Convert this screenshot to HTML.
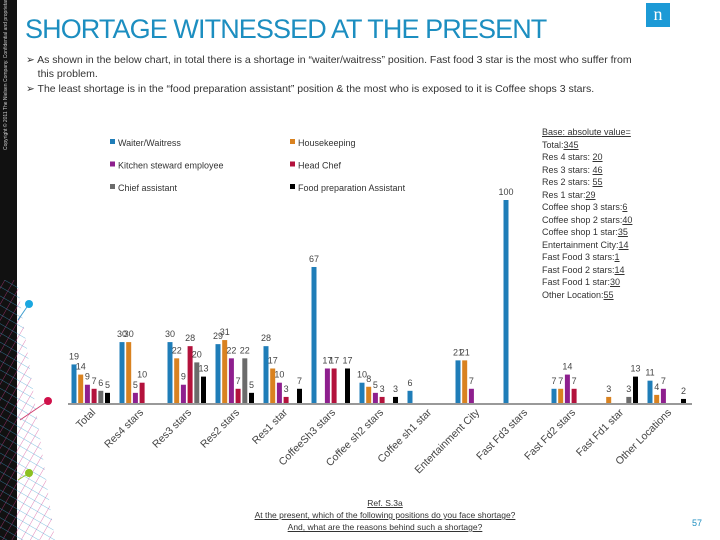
<!DOCTYPE html>
<html><head><meta charset="utf-8"><style>
body{margin:0;width:720px;height:540px;overflow:hidden;background:#fff;font-family:"Liberation Sans",sans-serif;position:relative}
.abs{position:absolute}
#title{left:25px;top:14px;font-size:27px;color:#1c8ec0;letter-spacing:-0.9px;white-space:nowrap}
.bul{left:26px;font-size:10.5px;color:#333;line-height:14px;width:660px}
#base{left:542px;top:126px;font-size:9px;color:#333;line-height:12.5px}
#base u{text-decoration:underline}
</style></head><body>
<div class="abs" style="left:0;top:0;width:17px;height:540px;background:#111"></div>
<div class="abs" style="left:3px;top:150px;font-size:5px;color:#ccc;transform:rotate(-90deg);transform-origin:left top;white-space:nowrap">Copyright © 2011 The Nielsen Company. Confidential and proprietary.</div>
<svg class="abs" style="left:0;top:0" width="720" height="540">
<defs><pattern id="mesh" width="8" height="8" patternUnits="userSpaceOnUse" patternTransform="rotate(30)">
<line x1="0" y1="0" x2="0" y2="8" stroke="#d04090" stroke-width="0.8"/><line x1="0" y1="0" x2="8" y2="0" stroke="#40a0d0" stroke-width="0.8"/></pattern></defs>
<polygon points="0,280 17,280 55,540 0,540" fill="url(#mesh)" opacity="0.8"/>
<line x1="18" y1="320" x2="29" y2="304" stroke="#40a0d0"/><circle cx="29" cy="304" r="4" fill="#1aa7e0"/>
<line x1="20" y1="420" x2="48" y2="401" stroke="#d04070"/><circle cx="48" cy="401" r="4" fill="#d0104a"/>
<line x1="18" y1="480" x2="29" y2="473" stroke="#90c030"/><circle cx="29" cy="473" r="4" fill="#8cc020"/>
</svg>
<div class="abs" style="left:646px;top:3px;width:24px;height:24px;background:#1c9ad6;color:#fff;font-size:18px;text-align:center;line-height:22px;font-family:'Liberation Serif',serif">n</div>
<div id="title" class="abs">SHORTAGE WITNESSED AT THE PRESENT</div>
<div class="abs bul" style="top:53px">➢ As shown in the below chart, in total there is a shortage in “waiter/waitress” position. Fast food 3 star is the most who suffer from<br>&nbsp;&nbsp;&nbsp;&nbsp;this problem.</div>
<div class="abs bul" style="top:82px">➢ The least shortage is in the “food preparation assistant” position &amp; the most who is exposed to it is Coffee shops 3 stars.</div>
<div id="base" class="abs"><u>Base: absolute value=</u><br>Total:<u>345</u><br>Res 4 stars: <u>20</u><br>Res 3 stars: <u>46</u><br>Res 2 stars: <u>55</u><br>Res 1 star:<u>29</u><br>Coffee shop 3 stars:<u>6</u><br>Coffee shop 2 stars:<u>40</u><br>Coffee shop 1 star:<u>35</u><br>Entertainment City:<u>14</u><br>Fast Food 3 stars:<u>1</u><br>Fast Food 2 stars:<u>14</u><br>Fast Food 1 star:<u>30</u><br>Other Location:<u>55</u></div>
<div class="abs" style="left:250px;top:497px;width:270px;text-align:center;font-size:8.5px;color:#333;line-height:12px"><u>Ref. S.3a</u><br><u>At the present, which of the following positions do you face shortage? And, what are the reasons behind such a shortage?</u></div>
<div class="abs" style="left:692px;top:518px;font-size:9px;color:#1c8ec0">57</div>
<svg id="chart" class="abs" style="left:0;top:0" width="720" height="540"></svg>
<script>
const categories=["Total","Res4 stars","Res3 stars","Res2 stars","Res1 star","CoffeeSh3 stars","Coffee sh2 stars","Coffee sh1 star","Entertainment City","Fast Fd3 stars","Fast Fd2 stars","Fast Fd1 star","Other Locations"];
const seriesNames=["Waiter/Waitress","Housekeeping","Kitchen steward employee","Head Chef","Chief assistant","Food preparation Assistant"];
const waiter=[19,30,30,29,28,67,10,6,21,100,7,null,11];
const housekeeping=[14,30,22,31,17,null,8,null,21,null,7,3,4];
const kitchen=[9,5,9,22,10,17,5,null,7,null,14,null,7];
const headChef=[7,10,28,7,3,17,3,null,null,null,7,null,null];
const chiefAssistant=[6,null,20,22,null,null,null,null,null,null,null,3,null];
const foodPrep=[5,null,13,5,7,17,3,null,null,null,null,13,2];
const series=[waiter,housekeeping,kitchen,headChef,chiefAssistant,foodPrep];
const colors=["#1f7db8","#d98220","#8e1f8e","#b3123c","#6b6b6b","#000"];
const NS="http://www.w3.org/2000/svg";
const svg=document.getElementById('chart');
const baseY=403,pxPer=2.03;
const yScale=v=>baseY-v*pxPer;
const xGroup=i=>74+i*48;
function mk(t,a){const e=document.createElementNS(NS,t);for(const k in a)e.setAttribute(k,a[k]);svg.appendChild(e);return e;}
const ax=mk('line',{x1:68,y1:baseY+1,x2:692,y2:baseY+1,stroke:'#999','stroke-width':2});


series.forEach((s,si)=>{s.forEach((v,i)=>{if(v==null)return;
const x=xGroup(i)+si*6.7-2.5;
const r=mk('rect',{x:x,y:yScale(v),width:5,height:v*pxPer,fill:colors[si]});


const t=mk('text',{x:x+2.5,y:yScale(v)-5,'font-size':9,fill:'#444','text-anchor':'middle'});
t.textContent=v;


});});
categories.forEach((c,i)=>{const x=xGroup(i)+22,y=413;
const t=mk('text',{x:x,y:y,'font-size':10.5,fill:'#444','text-anchor':'end',transform:`rotate(-45 ${x} ${y})`});
t.textContent=c;


});
seriesNames.forEach((n,i)=>{const x=i%2==0?110:290,y=143+Math.floor(i/2)*22.5;
const r=mk('rect',{x:x,y:y-4,width:5,height:5,fill:colors[i]});


const t=mk('text',{x:x+8,y:y+3,'font-size':9,fill:'#333'});
t.textContent=n;


});
</script>
</body></html>
